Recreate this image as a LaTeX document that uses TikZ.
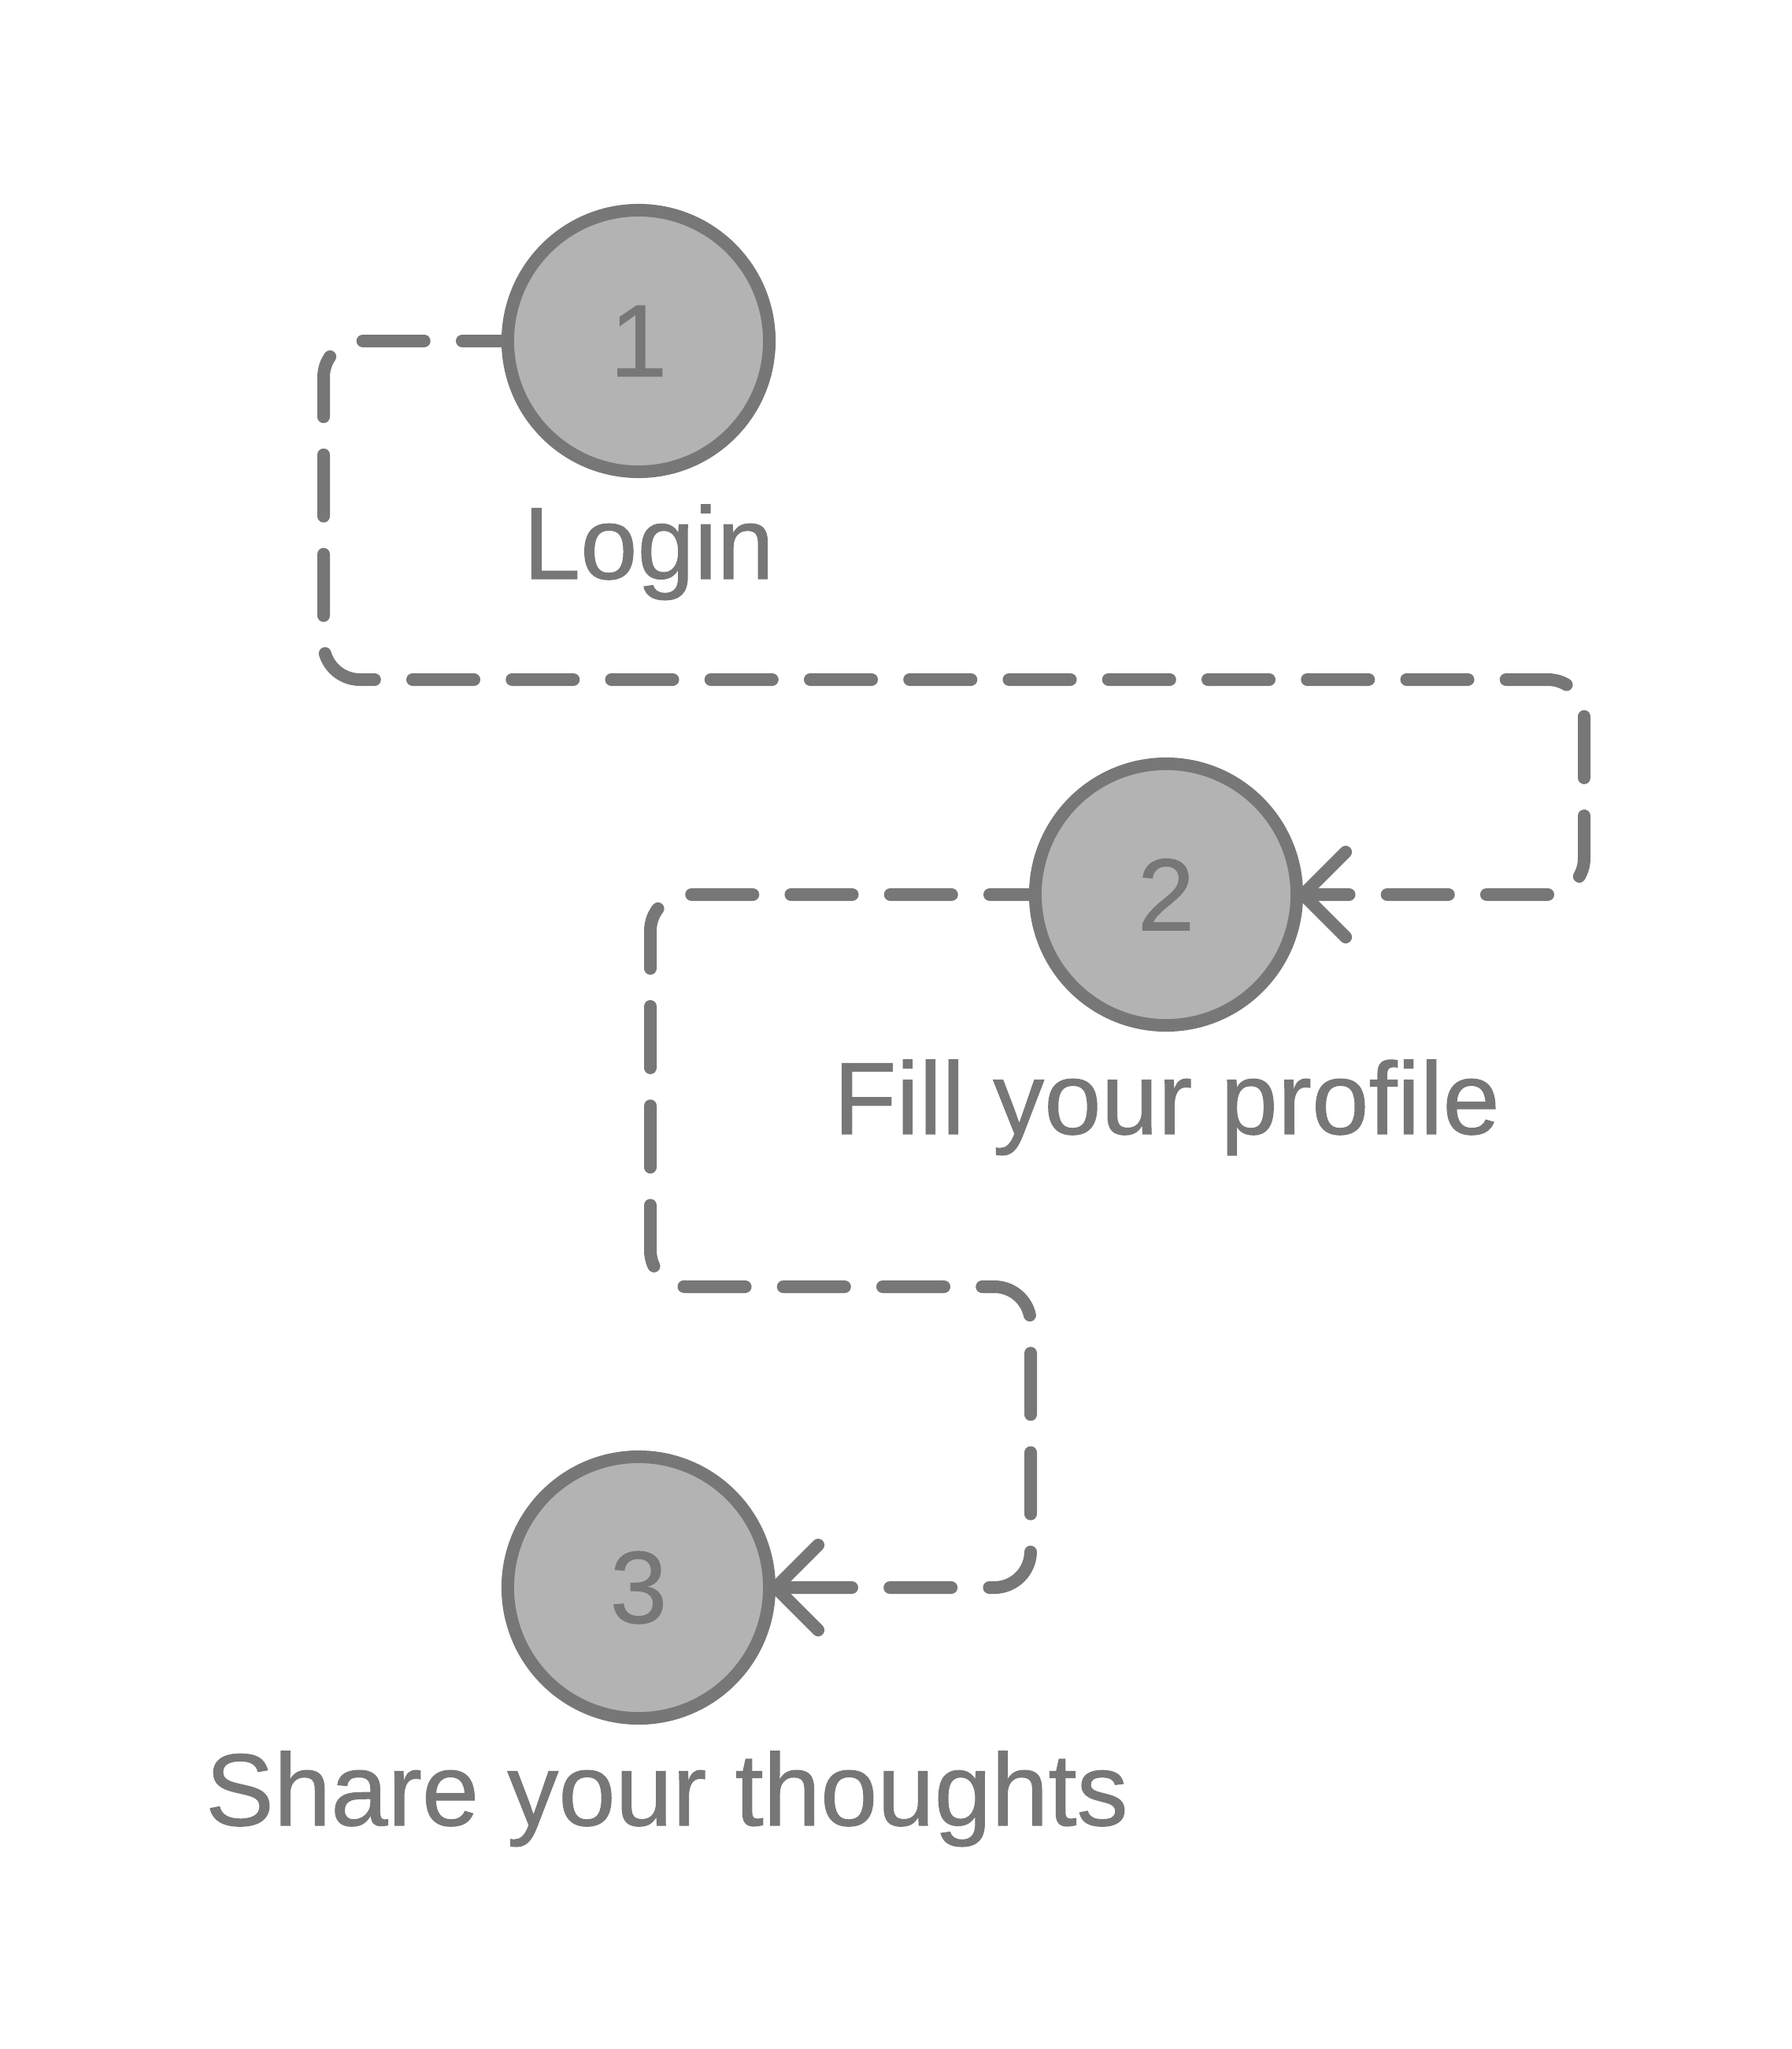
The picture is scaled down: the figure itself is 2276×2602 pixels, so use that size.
\documentclass[tikz,border=0pt]{standalone}
\usepackage{fontspec}
\setmainfont{Liberation Sans}
\newfontfamily\lblfont{Liberation Sans}[FakeBold=0.8]
\definecolor{ln}{HTML}{777777}
\definecolor{fl}{HTML}{B3B3B3}
\begin{document}
\begin{tikzpicture}[x=0.01cm,y=-0.01cm,
  stepcircle/.style={circle,draw=ln,fill=fl,line width=4.55pt,minimum size=3.32cm,inner sep=0pt,text=ln,font=\lblfont\fontsize{37}{44}\selectfont},
  steplabel/.style={anchor=base,text=ln,inner sep=0pt,font=\lblfont\fontsize{37}{44}\selectfont},
  flow/.style={draw=ln,line width=4.55pt,line cap=round,rounded corners=0.46cm,dash pattern=on 22.2pt off 13.7pt,dash phase=8pt},
  arm/.style={draw=ln,line width=4.55pt,line cap=round,line join=round}]
\useasboundingbox (0,0) rectangle (2276,2602);
\node[stepcircle] (c1) at (811,433) {1};
\node[stepcircle] (c2) at (1481,1136) {2};
\node[stepcircle] (c3) at (811,2016) {3};
\node[steplabel] (l1) at (824,735) {Login};
\node[steplabel] (l2) at (1482,1440) {Fill your profile};
\node[steplabel] (l3) at (847,2318) {Share your thoughts};
\coordinate (p1) at (411,863);
\coordinate (p2) at (2012,1136);
\coordinate (q1) at (826,1634);
\coordinate (q2) at (1309,2016);
\draw[flow] (c1.west) -| (p1) -| (p2) -- (c2.east);
\draw[flow] (c2.west) -| (q1) -| (q2) -- (c3.east);
\draw[arm] ([shift={(54,-54)}]c2.east) -- (c2.east) -- ([shift={(54,54)}]c2.east);
\draw[arm] (c2.east) -- ([shift={(54,0)}]c2.east);
\draw[arm] ([shift={(54,-54)}]c3.east) -- (c3.east) -- ([shift={(54,54)}]c3.east);
\draw[arm] (c3.east) -- ([shift={(54,0)}]c3.east);
\end{tikzpicture}
\end{document}
